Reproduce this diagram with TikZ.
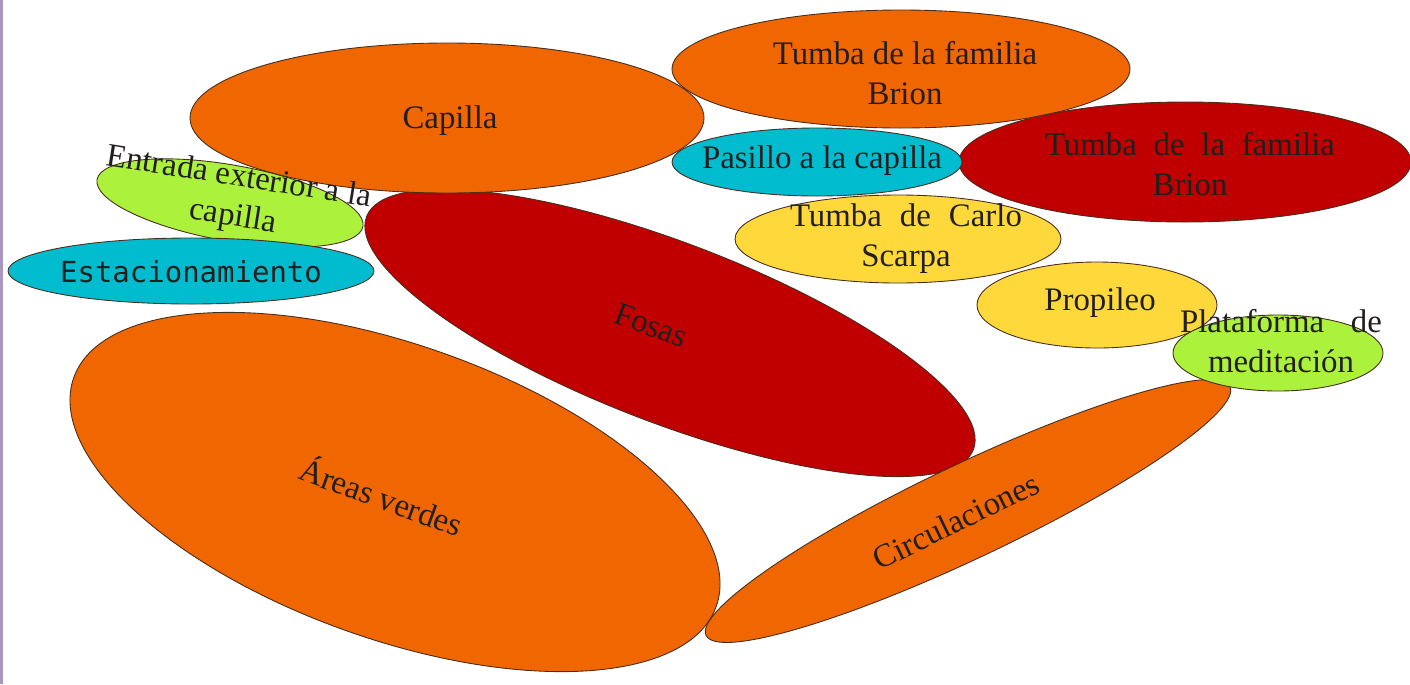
\documentclass[tikz,border=0pt]{standalone}
\usepackage{fontspec}
\setmainfont{Liberation Serif}
\newfontfamily\mono{DejaVu Sans Mono}
\definecolor{naranja}{RGB}{240,102,0}
\definecolor{rojo}{RGB}{192,0,0}
\definecolor{cian}{RGB}{0,188,206}
\definecolor{amarillo}{RGB}{255,217,60}
\definecolor{verde}{RGB}{172,242,60}
\definecolor{borde}{RGB}{70,45,30}
\definecolor{tinta}{RGB}{35,30,30}
\definecolor{lila}{RGB}{168,152,192}
\begin{document}
\begin{tikzpicture}[x=0.02cm, y=-0.02cm,
        zona/.style={draw=borde, line width=0.5pt},
        rotulo/.style={text=tinta, align=center, inner sep=0pt, font=\fontsize{18.7}{22.7}\selectfont}]
    \useasboundingbox (0,0) rectangle (1410,684);
    \fill[lila] (0,0) rectangle (3,684);
    \draw[zona, fill=naranja, rotate around={-19.6:(395,492)}] (395,492) ellipse [x radius=341, y radius=147];
    \draw[zona, fill=rojo, rotate around={-21:(670,333)}] (670,333) ellipse [x radius=325, y radius=90];
    \draw[zona, fill=naranja, rotate around={25.4:(968,511)}] (968,511) ellipse [x radius=290, y radius=47];
    \draw[zona, fill=naranja] (447,118) ellipse [x radius=257, y radius=75];
    \draw[zona, fill=naranja] (901,69) ellipse [x radius=229, y radius=59];
    \draw[zona, fill=rojo] (1185,162) ellipse [x radius=226, y radius=60];
    \draw[zona, fill=cian] (817,162) ellipse [x radius=145, y radius=34];
    \draw[zona, fill=amarillo] (898,239) ellipse [x radius=163, y radius=44];
    \draw[zona, fill=amarillo] (1097,305) ellipse [x radius=120, y radius=43];
    \draw[zona, fill=verde] (1278,353) ellipse [x radius=105, y radius=38];
    \draw[zona, fill=verde, rotate around={-10:(230,203)}] (230,203) ellipse [x radius=135, y radius=38];
    \draw[zona, fill=cian] (191,271) ellipse [x radius=183, y radius=33];
    \node[rotulo] (capilla) at (450,121) {Capilla};
    \node[rotulo] (brionA) at (905,73) {Tumba de la familia\\Brion};
    \node[rotulo] (pasillo) at (822,161) {Pasillo a la capilla};
    \node[rotulo] (brionB) at (1190,164) {\makebox[5.8cm][s]{Tumba de la familia}\\Brion};
    \node[rotulo] (scarpa) at (906,239) {\makebox[4.64cm][s]{Tumba de Carlo}\\Scarpa};
    \node[rotulo] (propileo) at (1100,303) {Propileo};
    \node[rotulo] (plataforma) at (1281,341) {\makebox[4.04cm][s]{Plataforma de}\\meditación};
    \node[rotulo, rotate=-9] (entrada) at (236,198) {Entrada exterior a la\\capilla};
    \node[rotulo, font=\mono\fontsize{16.5}{20}\selectfont] (estacionamiento) at (191,272) {Estacionamiento};
    \node[rotulo, rotate=-20] (fosas) at (651,325) {Fosas};
    \node[rotulo, rotate=-20] (areas) at (382,495) {Áreas verdes};
    \node[rotulo, rotate=26] (circulaciones) at (956,521) {Circulaciones};
\end{tikzpicture}
\end{document}
